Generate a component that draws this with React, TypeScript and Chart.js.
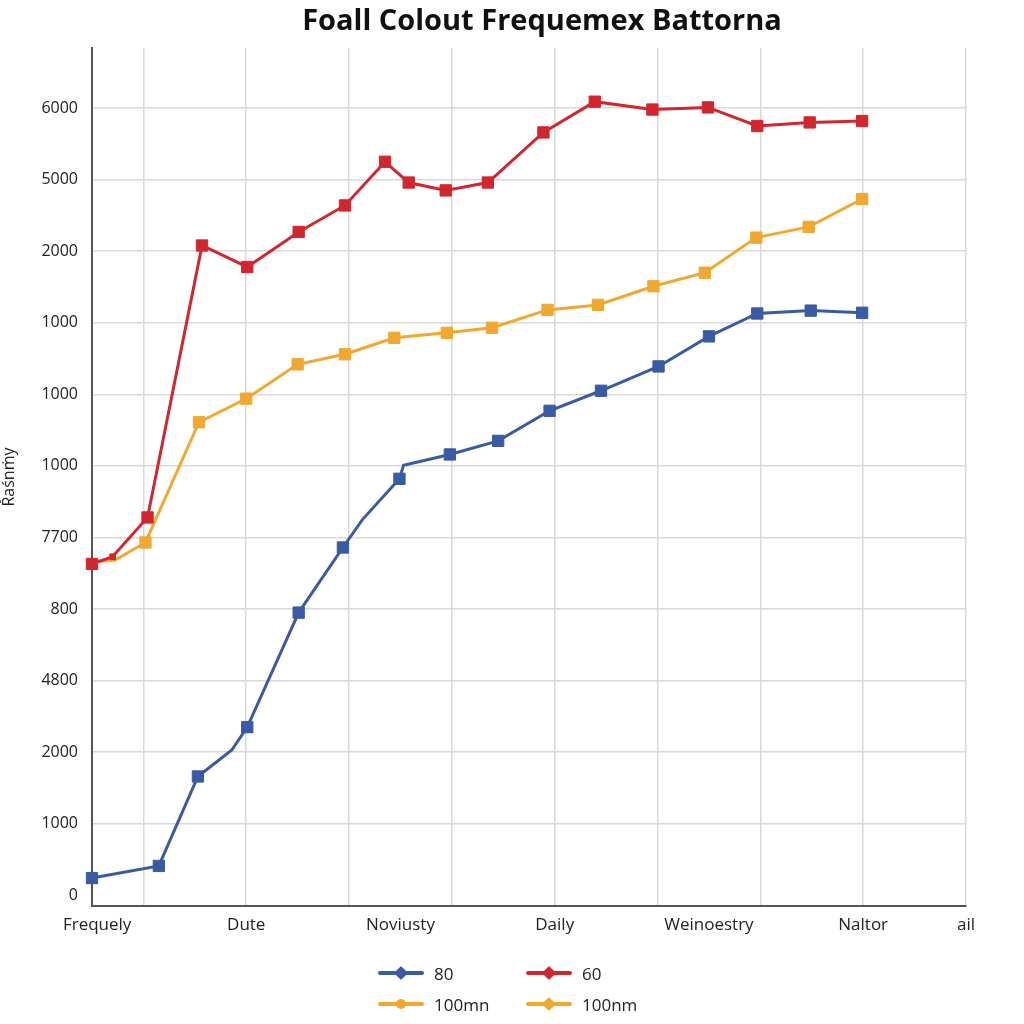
import React, { useEffect, useRef } from "react";
import { Chart, registerables } from "chart.js";

Chart.register(...registerables);

const TITLE = "Foall Colout Frequemex Battorna";
const Y_AXIS_TITLE = "Řaśnṁy";

// y tick labels, bottom (index 0) to top (index 11)
const yTickLabels = ["0", "1000", "2000", "4800", "800", "7700", "1000", "1000", "1000", "2000", "5000", "6000"];

// x axis labels and their positions
const xLabelNames = ["Frequely", "Dute", "Noviusty", "Daily", "Weinoestry", "Naltor", "ail"];
const xLabelPos = [0.05, 1.5, 3, 4.5, 6, 7.5, 8.5];
const xGridPos = [0.5, 1.5, 2.5, 3.5, 4.5, 5.5, 6.5, 7.5, 8.5];

// Series "80" (blue)
const blueX = [0, 0.65, 1.03, 1.36, 1.51, 2.01, 2.44, 2.63, 2.99, 3.03, 3.48, 3.95, 4.45, 4.95, 5.51, 6.0, 6.47, 6.99, 7.49];
const blueY = [0.24, 0.41, 1.66, 2.03, 2.35, 3.95, 4.86, 5.25, 5.82, 6.01, 6.16, 6.35, 6.77, 7.05, 7.39, 7.81, 8.13, 8.17, 8.14];
const blueR = [8, 8, 8, 0, 8, 8, 8, 0, 8, 0, 8, 8, 8, 8, 8, 8, 8, 8, 8];

// Series "60" (red)
const redX = [0, 0.2, 0.54, 1.07, 1.51, 2.01, 2.46, 2.85, 3.08, 3.44, 3.85, 4.39, 4.89, 5.45, 5.99, 6.47, 6.98, 7.49];
const redY = [4.63, 4.73, 5.28, 9.08, 8.78, 9.27, 9.64, 10.25, 9.96, 9.85, 9.96, 10.66, 11.09, 10.98, 11.01, 10.75, 10.8, 10.82];
const redR = [8, 4, 8, 8, 8, 8, 8, 8, 8, 8, 8, 8, 8, 8, 8, 8, 8, 8];

// Series "100mn" (yellow)
const yellowX = [0, 0.22, 0.52, 1.04, 1.5, 2.0, 2.46, 2.94, 3.45, 3.89, 4.43, 4.92, 5.46, 5.96, 6.46, 6.97, 7.49];
const yellowY = [4.66, 4.68, 4.93, 6.61, 6.94, 7.42, 7.56, 7.79, 7.86, 7.93, 8.18, 8.25, 8.51, 8.7, 9.19, 9.34, 9.73];
const yellowR = [0, 0, 8, 8, 8, 8, 8, 8, 8, 8, 8, 8, 8, 8, 8, 8, 8];

const BLUE = "#3a5ba3";
const RED = "#d2262f";
const YELLOW = "#f0a830";

const legendItems = [
  { label: "80", color: BLUE, marker: "diamond" },
  { label: "60", color: RED, marker: "diamond" },
  { label: "100mn", color: YELLOW, marker: "circle" },
  { label: "100nm", color: YELLOW, marker: "diamond" },
];

const FONT = '"Open Sans", "DejaVu Sans", sans-serif';

function toPoints(xs: number[], ys: number[]) {
  return xs.map((x, i) => ({ x, y: ys[i] }));
}

const titlePlugin = {
  id: "customTitle",
  afterDraw(chart: any) {
    const ctx = chart.ctx;
    ctx.save();
    ctx.font = `bold 29px ${FONT}`;
    ctx.fillStyle = "#111111";
    ctx.textAlign = "center";
    ctx.textBaseline = "middle";
    ctx.fillText(TITLE, 542, 22);
    ctx.restore();
  },
};

export default function App() {
  const canvasRef = useRef<HTMLCanvasElement | null>(null);

  useEffect(() => {
    if (!canvasRef.current) return;
    const chart = new Chart(canvasRef.current, {
      type: "line",
      data: {
        datasets: [
          {
            label: "80",
            data: toPoints(blueX, blueY),
            borderColor: BLUE,
            backgroundColor: BLUE,
            borderWidth: 3,
            pointStyle: "rect",
            pointRadius: blueR,
            pointBorderWidth: 1,
            clip: false,
          },
          {
            label: "60",
            data: toPoints(redX, redY),
            borderColor: RED,
            backgroundColor: RED,
            borderWidth: 3,
            pointStyle: "rect",
            pointRadius: redR,
            pointBorderWidth: 1,
            clip: false,
          },
          {
            label: "100mn",
            data: toPoints(yellowX, yellowY),
            borderColor: YELLOW,
            backgroundColor: YELLOW,
            borderWidth: 3,
            pointStyle: "rect",
            pointRadius: yellowR,
            pointBorderWidth: 1,
            clip: false,
          },
        ],
      },
      options: {
        animation: false,
        responsive: true,
        maintainAspectRatio: false,
        layout: { padding: { top: 48, right: 58, bottom: 58, left: 0 } },
        plugins: {
          legend: { display: false },
          title: { display: false },
          tooltip: { enabled: false },
        },
        scales: {
          x: {
            type: "linear",
            min: 0,
            max: 8.5,
            afterBuildTicks: (scale: any) => {
              const vals = Array.from(new Set([...xLabelPos, ...xGridPos])).sort((a, b) => a - b);
              scale.ticks = vals.map((v) => ({ value: v }));
            },
            afterFit: (scale: any) => {
              scale.height = 60;
            },
            ticks: {
              autoSkip: false,
              maxRotation: 0,
              padding: 9,
              color: "#222222",
              font: { family: FONT, size: 17 },
              callback: (value: any) => {
                const i = xLabelPos.indexOf(Number(value));
                return i >= 0 ? xLabelNames[i] : "";
              },
            },
            grid: {
              drawTicks: false,
              lineWidth: 1.5,
              color: (ctx: any) =>
                ctx.tick && xGridPos.indexOf(ctx.tick.value) >= 0 ? "#d9d9d9" : "rgba(0,0,0,0)",
            },
            border: { display: true, color: "#555555", width: 2 },
          },
          y: {
            type: "linear",
            min: -0.15,
            max: 11.84,
            afterBuildTicks: (scale: any) => {
              scale.ticks = yTickLabels.map((_, i) => ({ value: i }));
            },
            afterFit: (scale: any) => {
              scale.width = 92;
            },
            ticks: {
              autoSkip: false,
              padding: 14,
              color: "#222222",
              font: { family: FONT, size: 16 },
              callback: (value: any) => yTickLabels[Number(value)] ?? "",
            },
            grid: {
              drawTicks: false,
              lineWidth: 1.5,
              color: (ctx: any) => (ctx.tick && ctx.tick.value === 0 ? "rgba(0,0,0,0)" : "#d9d9d9"),
            },
            border: { display: true, color: "#555555", width: 2 },
            title: {
              display: true,
              text: Y_AXIS_TITLE,
              color: "#222222",
              font: { family: FONT, size: 16 },
              padding: 0,
            },
          },
        },
      },
      plugins: [titlePlugin],
    });
    return () => chart.destroy();
  }, []);

  const colLeft = [378, 526];
  const rowCenter = [973, 1004];

  return (
    <div style={{ position: "absolute", left: 0, top: 0, width: 1024, height: 1024, background: "#ffffff" }}>
      <canvas ref={canvasRef} style={{ width: 1024, height: 1024, display: "block" }} />
      {legendItems.map((item, i) => {
        const left = colLeft[i % 2];
        const cy = rowCenter[Math.floor(i / 2)];
        return (
          <div
            key={item.label + i}
            style={{
              position: "absolute",
              left,
              top: cy - 12,
              height: 24,
              display: "flex",
              alignItems: "center",
              fontFamily: FONT,
              fontSize: 17,
              color: "#222222",
            }}
          >
            <div style={{ position: "relative", width: 46, height: 24, marginRight: 10 }}>
              <div
                style={{
                  position: "absolute",
                  left: 0,
                  top: 10,
                  width: 46,
                  height: 4,
                  borderRadius: 2,
                  background: item.color,
                }}
              />
              <div
                style={{
                  position: "absolute",
                  left: 18,
                  top: 7,
                  width: 10,
                  height: 10,
                  background: item.color,
                  borderRadius: item.marker === "circle" ? "50%" : 1,
                  transform: item.marker === "diamond" ? "rotate(45deg)" : "none",
                }}
              />
            </div>
            <span>{item.label}</span>
          </div>
        );
      })}
    </div>
  );
}
